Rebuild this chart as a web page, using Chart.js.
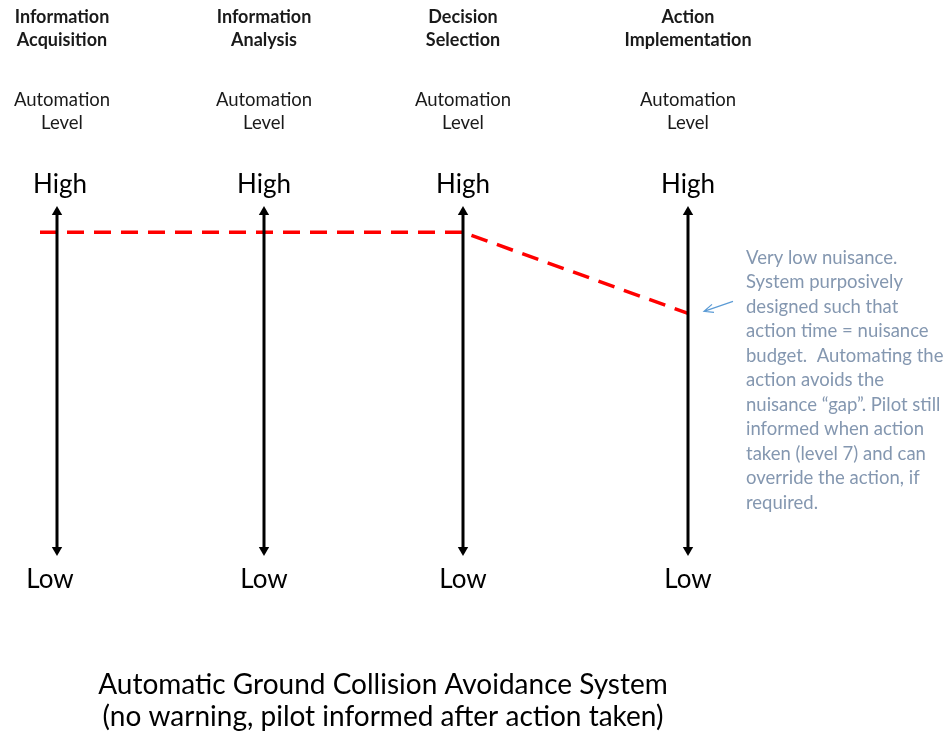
<!DOCTYPE html>
<html>
<head>
<meta charset="utf-8">
<script src="https://cdn.jsdelivr.net/npm/chart.js@4"></script>
<style>
  html, body { margin: 0; padding: 0; background: #fff; }
  #wrap { width: 952px; height: 735px; position: relative; }
</style>
</head>
<body>
<div id="wrap"><canvas id="loaChart"></canvas></div>
<script>
// stages of automation, their horizontal positions and automation levels (0 = Low, 10 = High)
const stages = [['Information', 'Acquisition'], ['Information', 'Analysis'], ['Decision', 'Selection'], ['Action', 'Implementation']];
const stageX = [0.57, 2.64, 4.63, 6.88];
const levels = [9.4, 9.4, 9.4, 7];
const lineStartX = 0.40;
const levelMin = 0;
const levelMax = 10;
const note = ['Very low nuisance.', 'System purposively', 'designed such that', 'action time = nuisance',
  'budget.  Automating the', 'action avoids the', 'nuisance \u201cgap\u201d. Pilot still', 'informed when action',
  'taken (level 7) and can', 'override the action, if', 'required.'];
const title = ['Automatic Ground Collision Avoidance System', '(no warning, pilot informed after action taken)'];

const FONT = 'Lato, "Open Sans", sans-serif';

// level path: starts a bit left of the first axis, flat across, then drops to the last stage
const pathX = [lineStartX].concat(stageX.slice(1));
const pathY = [levels[0]].concat(levels.slice(1));
const levelPath = pathX.map((x, i) => ({ x: x, y: pathY[i] }));

const arrowSets = stageX.map(x => ({
  data: [{ x: x, y: levelMin }, { x: x, y: levelMax }],
  showLine: true,
  borderColor: '#000',
  backgroundColor: '#000',
  borderWidth: 3,
  pointStyle: 'triangle',
  pointRadius: 6,
  pointRotation: [180, 0],
  pointBorderWidth: 0,
}));

const textPlugin = {
  id: 'diagramText',
  afterDraw(chart) {
    const ctx = chart.ctx;
    const xs = chart.scales.x;
    ctx.save();
    ctx.textAlign = 'center';
    ctx.textBaseline = 'middle';
    stages.forEach((s, i) => {
      const cx = xs.getPixelForValue(stageX[i]);
      const d = i === 0 ? 5 : 0;
      ctx.fillStyle = '#1a1a1a';
      ctx.font = 'bold 18px ' + FONT;
      ctx.fillText(s[0], cx + d, 17);
      ctx.fillText(s[1], cx + d, 40);
      ctx.font = '18.5px ' + FONT;
      ctx.fillText('Automation', cx + d, 100);
      ctx.fillText('Level', cx + d, 123);
      ctx.fillStyle = '#000';
      ctx.font = '26px ' + FONT;
      ctx.fillText('High', cx + (i === 0 ? 3 : 0), 185);
      ctx.fillText('Low', cx + (i === 0 ? -7 : 0), 580);
    });

    // annotation
    ctx.textAlign = 'left';
    ctx.fillStyle = '#8497B0';
    ctx.font = '18.5px ' + FONT;
    note.forEach((t, i) => ctx.fillText(t, 746, 258 + i * 24.5));

    // pointer arrow to the last stage level
    const px = xs.getPixelForValue(stageX[3]) + 16;
    const py = chart.scales.y.getPixelForValue(levels[3]) - 2;
    ctx.strokeStyle = '#5B9BD5';
    ctx.lineWidth = 1.2;
    ctx.beginPath();
    ctx.moveTo(px + 29, py - 10);
    ctx.lineTo(px, py);
    ctx.moveTo(px + 8, py - 7);
    ctx.lineTo(px, py);
    ctx.lineTo(px + 10, py + 1);
    ctx.stroke();

    // bottom caption
    ctx.textAlign = 'center';
    ctx.fillStyle = '#000';
    ctx.font = '28px ' + FONT;
    title.forEach((t, i) => ctx.fillText(t, 383, 685 + i * 32));
    ctx.restore();
  }
};

new Chart(document.getElementById('loaChart'), {
  type: 'scatter',
  data: {
    datasets: arrowSets.concat([{
      data: levelPath,
      showLine: true,
      borderColor: '#FF0000',
      borderWidth: 3.5,
      borderDash: [17, 10],
      pointRadius: 0,
    }])
  },
  options: {
    responsive: true,
    maintainAspectRatio: false,
    animation: false,
    layout: { padding: 0, autoPadding: false },
    scales: {
      x: { type: 'linear', display: false, min: 0, max: 9.52 },
      y: { type: 'linear', display: false, min: -5.47, max: 16.27 }
    },
    plugins: {
      legend: { display: false },
      tooltip: { enabled: false }
    }
  },
  plugins: [textPlugin]
});
</script>
</body>
</html>
